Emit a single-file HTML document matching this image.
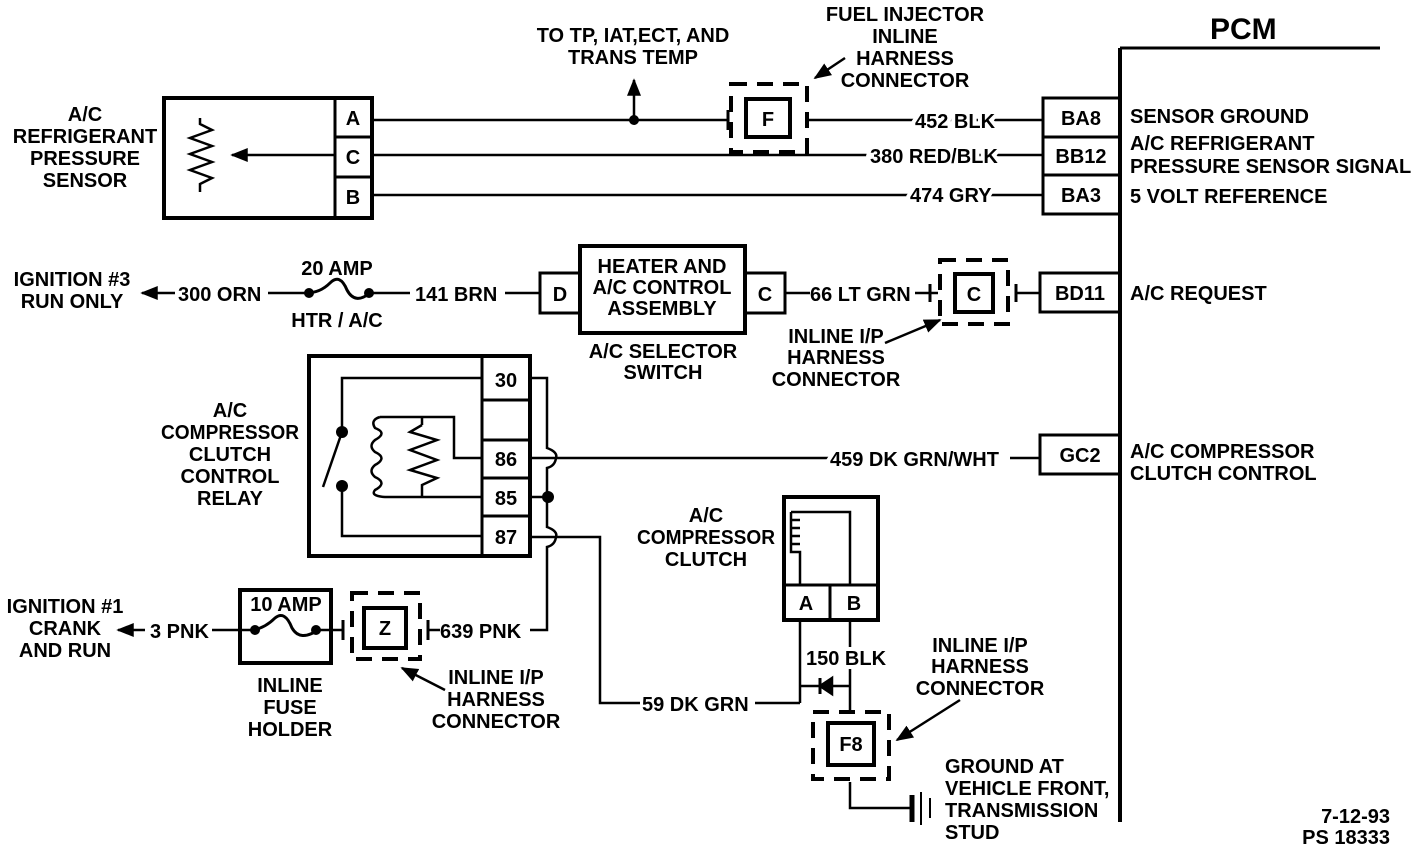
<!DOCTYPE html>
<html><head><meta charset="utf-8"><style>
html,body{margin:0;padding:0;background:#fff}
svg{display:block}
text{font-family:"Liberation Sans",sans-serif;font-weight:bold;font-size:20px;fill:#000}
.m{paint-order:stroke;stroke:#fff;stroke-width:8px}
</style></head><body>
<svg width="1424" height="852" viewBox="0 0 1424 852" xmlns="http://www.w3.org/2000/svg">
<defs><marker id="ah" viewBox="0 0 10 10" refX="9" refY="5" markerWidth="7" markerHeight="7" orient="auto-start-reverse"><path d="M0,1 L10,5 L0,9 Z" fill="#000"/></marker></defs>
<g stroke="#000" fill="none" stroke-width="2.5">
<line x1="1120" y1="48" x2="1120" y2="822" stroke-width="4"/>
<line x1="1120" y1="48" x2="1380" y2="48" stroke-width="3"/>
<rect x="1043" y="98" width="77" height="39" stroke-width="3"/>
<rect x="1043" y="137" width="77" height="38" stroke-width="3"/>
<rect x="1043" y="175" width="77" height="39" stroke-width="3"/>
<rect x="1040" y="273" width="80" height="39" stroke-width="3"/>
<rect x="1040" y="435" width="80" height="39" stroke-width="3"/>
<rect x="164" y="98" width="208" height="120" stroke-width="4"/>
<line x1="335" y1="98" x2="335" y2="218" stroke-width="3"/>
<line x1="335" y1="137" x2="372" y2="137" stroke-width="3"/>
<line x1="335" y1="177" x2="372" y2="177" stroke-width="3"/>
<path d="M200,118 L200,124 L212,130 L190,138 L212,146 L190,154 L212,162 L190,170 L212,178 L200,184 L200,192"/>
<line x1="335" y1="155" x2="232" y2="155" marker-end="url(#ah)"/>
<line x1="372" y1="120" x2="728" y2="120"/>
<line x1="372" y1="155" x2="1043" y2="155"/>
<line x1="372" y1="195" x2="1043" y2="195"/>
<line x1="808" y1="120" x2="1043" y2="120"/>
<line x1="634" y1="120" x2="634" y2="80" marker-end="url(#ah)"/>
<rect x="731" y="84" width="76" height="68" stroke-width="4" stroke-dasharray="16,10"/>
<rect x="746" y="99" width="44" height="38" stroke-width="4"/>
<line x1="728" y1="110" x2="728" y2="130" stroke-width="3"/>
<line x1="845" y1="58" x2="815" y2="78" marker-end="url(#ah)"/>
<line x1="175" y1="293" x2="142" y2="293" marker-end="url(#ah)"/>
<line x1="268" y1="293" x2="306" y2="293"/>
<path d="M306,293 Q320,293 330,283 Q340,273 347,290 Q355,305 370,293" stroke-width="3"/>
<line x1="370" y1="293" x2="410" y2="293"/>
<line x1="505" y1="293" x2="540" y2="293"/>
<rect x="540" y="273" width="40" height="40" stroke-width="3"/>
<rect x="580" y="246" width="165" height="87" stroke-width="4"/>
<rect x="745" y="273" width="40" height="40" stroke-width="3"/>
<line x1="785" y1="293" x2="810" y2="293"/>
<line x1="915" y1="293" x2="938" y2="293"/>
<line x1="930" y1="284" x2="930" y2="302" stroke-width="3"/>
<rect x="940" y="260" width="68" height="64" stroke-width="4" stroke-dasharray="16,10"/>
<rect x="955" y="274" width="38" height="38" stroke-width="4"/>
<line x1="1016" y1="284" x2="1016" y2="302" stroke-width="3"/>
<line x1="1016" y1="293" x2="1040" y2="293"/>
<line x1="885" y1="343" x2="940" y2="320" marker-end="url(#ah)"/>
<rect x="309" y="356" width="221" height="200" stroke-width="4"/>
<line x1="482" y1="356" x2="482" y2="556" stroke-width="3"/>
<line x1="482" y1="400" x2="530" y2="400" stroke-width="3"/>
<line x1="482" y1="440" x2="530" y2="440" stroke-width="3"/>
<line x1="482" y1="478" x2="530" y2="478" stroke-width="3"/>
<line x1="482" y1="516" x2="530" y2="516" stroke-width="3"/>
<path d="M482,378 L342,378 L342,432"/>
<line x1="342" y1="432" x2="323" y2="487"/>
<path d="M342,488 L342,536 L482,536"/>
<path d="M380,417 L454,417 L454,458 L482,458"/>
<path d="M380,417 Q370,420 375,428 Q388,433 375,440 Q368,446 375,452 Q388,458 375,465 Q368,471 375,477 Q388,483 375,490 Q370,496 385,497 L482,497"/>
<line x1="422" y1="417" x2="422" y2="425"/>
<path d="M422,425 L410,432 L437,440 L410,450 L437,460 L410,470 L437,478 L422,485 L422,497"/>
<path d="M530,378 L547,378 L547,448 Q558,452 556,458 Q555,466 547,468 L547,527 Q558,531 556,537 Q555,545 547,547 L547,630 L530,630"/>
<line x1="530" y1="458" x2="830" y2="458"/>
<line x1="1010" y1="458" x2="1040" y2="458"/>
<line x1="530" y1="497" x2="547" y2="497"/>
<path d="M530,537 L600,537 L600,703 L640,703"/>
<line x1="755" y1="703" x2="800" y2="703"/>
<rect x="784" y="497" width="94" height="123" stroke-width="4"/>
<line x1="784" y1="585" x2="878" y2="585" stroke-width="3"/>
<line x1="830" y1="585" x2="830" y2="620" stroke-width="3"/>
<path d="M791,512 L850,512 L850,585"/>
<path d="M800,585 L800,552 L791,552 L791,512"/>
<path d="M792,520 L800,520 M792,528 L800,528 M792,536 L800,536 M792,544 L800,544"/>
<line x1="800" y1="620" x2="800" y2="703"/>
<line x1="850" y1="620" x2="850" y2="712"/>
<line x1="800" y1="686" x2="850" y2="686"/>
<path d="M832,678 L820,686 L832,694 Z" fill="#000"/>
<line x1="820" y1="678" x2="820" y2="694" stroke-width="3"/>
<rect x="813" y="712" width="76" height="67" stroke-width="4" stroke-dasharray="16,10"/>
<rect x="828" y="723" width="46" height="42" stroke-width="4"/>
<path d="M850,782 L850,808 L910,808"/>
<line x1="912" y1="795" x2="912" y2="822" stroke-width="5"/>
<line x1="921" y1="792" x2="921" y2="825" stroke-width="2"/>
<line x1="930" y1="798" x2="930" y2="818" stroke-width="2"/>
<line x1="960" y1="700" x2="897" y2="740" marker-end="url(#ah)"/>
<line x1="145" y1="630" x2="118" y2="630" marker-end="url(#ah)"/>
<line x1="212" y1="630" x2="240" y2="630"/>
<rect x="240" y="590" width="91" height="73" stroke-width="4"/>
<line x1="240" y1="630" x2="253" y2="630"/>
<path d="M253,630 Q265,628 275,618 Q285,610 292,628 Q300,642 318,630" stroke-width="3"/>
<line x1="318" y1="630" x2="343" y2="630"/>
<line x1="343" y1="620" x2="343" y2="640" stroke-width="3"/>
<rect x="352" y="593" width="68" height="66" stroke-width="4" stroke-dasharray="16,10"/>
<rect x="364" y="608" width="42" height="40" stroke-width="4"/>
<line x1="428" y1="620" x2="428" y2="640" stroke-width="3"/>
<line x1="428" y1="630" x2="440" y2="630"/>
<line x1="445" y1="690" x2="402" y2="668" marker-end="url(#ah)"/>
</g>
<g fill="#000">
<circle cx="634" cy="120" r="5"/>
<circle cx="309" cy="293" r="5"/><circle cx="369" cy="293" r="5"/>
<circle cx="342" cy="432" r="6"/><circle cx="342" cy="486" r="6"/>
<circle cx="548" cy="497" r="6"/>
<circle cx="255" cy="630" r="5"/><circle cx="316" cy="630" r="5"/>
</g>
<text x="1210" y="39" style="font-size:30px">PCM</text>
<g text-anchor="middle">
<text x="1081" y="125">BA8</text><text x="1081" y="163">BB12</text><text x="1081" y="202">BA3</text>
<text x="1080" y="300">BD11</text><text x="1080" y="462">GC2</text>
<text x="353" y="125">A</text><text x="353" y="164">C</text><text x="353" y="204">B</text>
<text x="85" y="121">A/C</text><text x="85" y="143">REFRIGERANT</text><text x="85" y="165">PRESSURE</text><text x="85" y="187">SENSOR</text>
<text x="633" y="42">TO TP, IAT,ECT, AND</text><text x="633" y="64">TRANS TEMP</text>
<text x="905" y="21">FUEL INJECTOR</text><text x="905" y="43">INLINE</text><text x="905" y="65">HARNESS</text><text x="905" y="87">CONNECTOR</text>
<text x="768" y="126">F</text>
<text x="72" y="286">IGNITION #3</text><text x="72" y="308">RUN ONLY</text>
<text x="337" y="275">20 AMP</text><text x="337" y="327">HTR / A/C</text>
<text x="560" y="301">D</text><text x="765" y="301">C</text><text x="974" y="301">C</text>
<text x="662" y="273">HEATER AND</text><text x="662" y="294">A/C CONTROL</text><text x="662" y="315">ASSEMBLY</text>
<text x="663" y="358">A/C SELECTOR</text><text x="663" y="379">SWITCH</text>
<text x="836" y="343">INLINE I/P</text><text x="836" y="364">HARNESS</text><text x="836" y="386">CONNECTOR</text>
<text x="506" y="387">30</text><text x="506" y="466">86</text><text x="506" y="505">85</text><text x="506" y="544">87</text>
<text x="230" y="417">A/C</text><text x="230" y="439" textLength="138" lengthAdjust="spacingAndGlyphs">COMPRESSOR</text><text x="230" y="461">CLUTCH</text><text x="230" y="483">CONTROL</text><text x="230" y="505">RELAY</text>
<text x="706" y="522">A/C</text><text x="706" y="544" textLength="138" lengthAdjust="spacingAndGlyphs">COMPRESSOR</text><text x="706" y="566">CLUTCH</text>
<text x="806" y="610">A</text><text x="854" y="610">B</text>
<text x="851" y="751">F8</text>
<text x="980" y="652">INLINE I/P</text><text x="980" y="673">HARNESS</text><text x="980" y="695">CONNECTOR</text>
<text x="65" y="613">IGNITION #1</text><text x="65" y="635">CRANK</text><text x="65" y="657">AND RUN</text>
<text x="286" y="611">10 AMP</text>
<text x="385" y="635">Z</text>
<text x="290" y="692">INLINE</text><text x="290" y="714">FUSE</text><text x="290" y="736">HOLDER</text>
<text x="496" y="684">INLINE I/P</text><text x="496" y="706">HARNESS</text><text x="496" y="728">CONNECTOR</text>
</g>
<text class="m" x="915" y="128">452 BLK</text>
<text class="m" x="870" y="163">380 RED/BLK</text>
<text class="m" x="910" y="202">474 GRY</text>
<text x="178" y="301">300 ORN</text>
<text x="415" y="301">141 BRN</text>
<text x="810" y="301">66 LT GRN</text>
<text class="m" x="830" y="466">459 DK GRN/WHT</text>
<text x="440" y="638">639 PNK</text>
<text x="150" y="638">3 PNK</text>
<text x="642" y="711">59 DK GRN</text>
<text class="m" x="806" y="665">150 BLK</text>
<text x="1130" y="123">SENSOR GROUND</text>
<text x="1130" y="150">A/C REFRIGERANT</text>
<text x="1130" y="173">PRESSURE SENSOR SIGNAL</text>
<text x="1130" y="203">5 VOLT REFERENCE</text>
<text x="1130" y="300">A/C REQUEST</text>
<text x="1130" y="458">A/C COMPRESSOR</text>
<text x="1130" y="480">CLUTCH  CONTROL</text>
<text x="945" y="773">GROUND AT</text>
<text x="945" y="795">VEHICLE FRONT,</text>
<text x="945" y="817">TRANSMISSION</text>
<text x="945" y="839">STUD</text>
<text x="1390" y="823" text-anchor="end">7-12-93</text>
<text x="1390" y="844" text-anchor="end">PS 18333</text>
</svg>
</body></html>
